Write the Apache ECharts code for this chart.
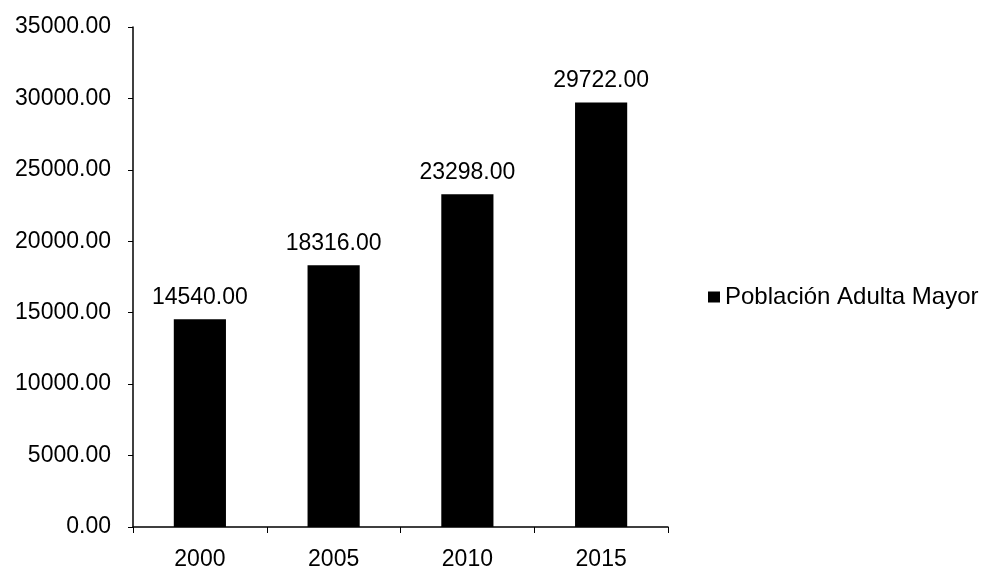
<!DOCTYPE html>
<html>
<head>
<meta charset="utf-8">
<script src="https://cdn.jsdelivr.net/npm/echarts@6/dist/echarts.min.js"></script>
<style>
  html, body { margin: 0; padding: 0; background: #fff; }
  #chart { width: 994px; height: 571px; }
</style>
</head>
<body>
<div id="chart"></div>
<script>
// datos
const years = ['2000', '2005', '2010', '2015'];
const poblacion = [14540, 18316, 23298, 29722];
const seriesName = 'Población Adulta Mayor';

const chart = echarts.init(document.getElementById('chart'));
const font = 'Liberation Sans, Arial, sans-serif';

chart.setOption({
  animation: false,
  textStyle: { fontFamily: font },
  grid: { left: 133, right: 326, top: 27, bottom: 43 },
  legend: {
    data: [seriesName],
    orient: 'vertical',
    left: 703,
    top: 280,
    icon: 'rect',
    itemWidth: 12,
    itemHeight: 11,
    itemGap: 4,
    textStyle: { color: '#000', fontSize: 24, fontFamily: font }
  },
  xAxis: {
    type: 'category',
    data: years,
    axisLine: { lineStyle: { color: '#000', width: 1.5 } },
    axisTick: { show: true, length: 6, lineStyle: { color: '#000' } },
    axisLabel: { color: '#000', fontSize: 23, margin: 21, fontFamily: font }
  },
  yAxis: {
    type: 'value',
    min: 0,
    max: 35000,
    interval: 5000,
    splitLine: { show: false },
    axisLine: { show: true, lineStyle: { color: '#000', width: 1.5 } },
    axisTick: { show: true, length: 5, lineStyle: { color: '#000' } },
    axisLabel: {
      color: '#000',
      fontSize: 23,
      margin: 22,
      fontFamily: font,
      formatter: v => v.toFixed(2)
    }
  },
  series: [{
    name: seriesName,
    type: 'bar',
    data: poblacion,
    barWidth: '39%',
    itemStyle: { color: '#000' },
    label: {
      show: true,
      position: 'top',
      distance: 10,
      color: '#000',
      fontSize: 23,
      fontFamily: font,
      formatter: p => p.value.toFixed(2)
    }
  }]
});
</script>
</body>
</html>
